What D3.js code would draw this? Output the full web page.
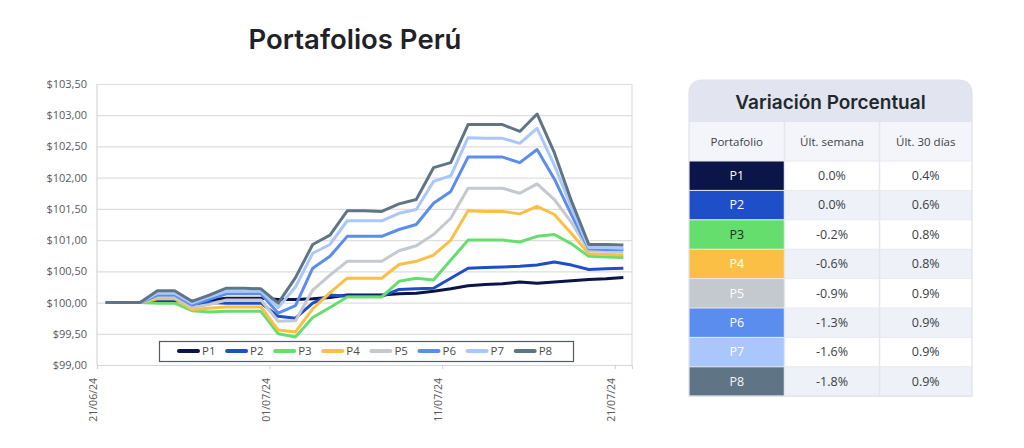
<!DOCTYPE html>
<html>
<head>
<meta charset="utf-8">
<script src="https://cdn.jsdelivr.net/npm/d3@7"></script>
<style>
  html, body { margin: 0; padding: 0; background: #ffffff; }
  svg { display: block; }
</style>
</head>
<body>
<svg id="chart" width="1024" height="448"></svg>
<script>
// ---------- DATA ----------
const dates = ["2024-06-21","2024-06-22","2024-06-23","2024-06-24","2024-06-25","2024-06-26","2024-06-27","2024-06-28","2024-06-29","2024-06-30",
  "2024-07-01","2024-07-02","2024-07-03","2024-07-04","2024-07-05","2024-07-06","2024-07-07","2024-07-08","2024-07-09","2024-07-10",
  "2024-07-11","2024-07-12","2024-07-13","2024-07-14","2024-07-15","2024-07-16","2024-07-17","2024-07-18","2024-07-19","2024-07-20","2024-07-21"];

const seriesNames = ["P1","P2","P3","P4","P5","P6","P7","P8"];
const seriesColors = ["#0b1547","#1f4ec9","#66de6e","#fbbf45","#c3c9cf","#5b8def","#a9c7fb","#5f7585"];

const P1 = [100.00,100.00,100.00,100.03,100.03,100.02,100.04,100.07,100.07,100.07,100.05,100.05,100.06,100.08,100.12,100.12,100.12,100.14,100.15,100.18,100.22,100.27,100.29,100.30,100.33,100.31,100.33,100.35,100.37,100.38,100.40];
const P2 = [100.00,100.00,100.00,100.05,100.05,99.97,100.00,99.99,99.99,99.99,99.78,99.75,99.99,100.12,100.10,100.10,100.10,100.21,100.22,100.23,100.39,100.55,100.56,100.57,100.58,100.60,100.65,100.60,100.53,100.54,100.55];
const P3 = [100.00,100.00,100.00,99.99,99.99,99.87,99.85,99.86,99.86,99.86,99.50,99.45,99.76,99.92,100.09,100.09,100.09,100.34,100.39,100.36,100.68,101.00,101.00,101.00,100.97,101.06,101.09,100.94,100.74,100.73,100.72];
const P4 = [100.00,100.00,100.00,100.06,100.06,99.89,99.91,99.93,99.93,99.93,99.56,99.53,99.90,100.16,100.39,100.39,100.39,100.61,100.66,100.76,101.00,101.47,101.46,101.46,101.42,101.54,101.41,101.10,100.78,100.77,100.76];
const P5 = [100.00,100.00,100.00,100.09,100.09,99.92,99.97,100.04,100.04,100.04,99.70,99.71,100.20,100.44,100.66,100.66,100.66,100.83,100.91,101.09,101.35,101.83,101.83,101.83,101.75,101.90,101.65,101.28,100.83,100.82,100.81];
const P6 = [100.00,100.00,100.00,100.12,100.12,99.96,100.05,100.14,100.14,100.14,99.83,99.95,100.55,100.74,101.06,101.06,101.06,101.17,101.25,101.59,101.78,102.33,102.33,102.33,102.24,102.45,101.98,101.40,100.86,100.85,100.85];
const P7 = [100.00,100.00,100.00,100.15,100.15,99.99,100.09,100.18,100.18,100.18,99.92,100.25,100.79,100.93,101.31,101.31,101.31,101.43,101.49,101.94,102.03,102.64,102.63,102.63,102.55,102.79,102.20,101.52,100.88,100.88,100.87];
const P8 = [100.00,100.00,100.00,100.19,100.19,100.02,100.12,100.23,100.23,100.22,99.99,100.40,100.93,101.08,101.47,101.47,101.46,101.58,101.65,102.16,102.24,102.85,102.85,102.85,102.74,103.02,102.40,101.62,100.93,100.93,100.92];
const seriesValues = [P1,P2,P3,P4,P5,P6,P7,P8];

const yTicks = [99.0,99.5,100.0,100.5,101.0,101.5,102.0,102.5,103.0,103.5];
const xTickDates = ["2024-06-21","2024-07-01","2024-07-11","2024-07-21"];

const chartTitle = "Portafolios Perú";
const tableTitle = "Variación Porcentual";
const tableHeaders = ["Portafolio","Últ. semana","Últ. 30 días"];
const weekChange = ["0.0%","0.0%","-0.2%","-0.6%","-0.9%","-1.3%","-1.6%","-1.8%"];
const monthChange = ["0.4%","0.6%","0.8%","0.8%","0.9%","0.9%","0.9%","0.9%"];
const labelTextColors = ["#ffffff","#ffffff","#1d2b22","#ffffff","#ffffff","#ffffff","#ffffff","#f2f4f6"];

// ---------- CHART ----------
const svg = d3.select("#chart");
const parse = d3.timeParse("%Y-%m-%d");
const fmtDate = d3.timeFormat("%d/%m/%y");
const locale = d3.formatLocale({decimal: ",", thousands: ".", grouping: [3], currency: ["$", ""]});
const fmtY = locale.format("$.2f");

const plot = {left: 97, right: 632, top: 84, bottom: 365};

const x = d3.scaleTime()
  .domain([parse("2024-06-21"), parse("2024-07-22")])
  .range([plot.left, plot.right]);
const y = d3.scaleLinear()
  .domain([99, 103.5])
  .range([plot.bottom, plot.top]);

const pointDate = d => d3.timeHour.offset(parse(d), 12);

// title
svg.append("text")
  .attr("x", 355).attr("y", 49)
  .attr("text-anchor", "middle")
  .attr("font-family", "Inter, 'Open Sans', sans-serif")
  .attr("font-weight", 600)
  .attr("font-size", 27.5)
  .attr("fill", "#1f2328")
  .text(chartTitle);

// gridlines
const yAxisG = svg.append("g")
  .attr("transform", `translate(${plot.left},0)`)
  .call(d3.axisLeft(y).tickValues(yTicks).tickFormat(fmtY).tickSize(-(plot.right - plot.left)).tickPadding(10));
yAxisG.select(".domain").remove();
yAxisG.selectAll(".tick line").attr("stroke", "#dedede").attr("stroke-width", 1.2);
yAxisG.selectAll(".tick text")
  .attr("font-family", "'Open Sans', sans-serif")
  .attr("font-size", 11)
  .attr("fill", "#555a5e");

// plot border (left and right)
svg.append("line").attr("x1", plot.left).attr("x2", plot.left).attr("y1", plot.top).attr("y2", plot.bottom)
  .attr("stroke", "#d6d6d6").attr("stroke-width", 1.2);
svg.append("line").attr("x1", plot.right).attr("x2", plot.right).attr("y1", plot.top).attr("y2", plot.bottom)
  .attr("stroke", "#dedede").attr("stroke-width", 1.2);

// x axis
const xAxisG = svg.append("g")
  .attr("transform", `translate(0,${plot.bottom})`)
  .call(d3.axisBottom(x).tickValues(xTickDates.map(parse)).tickFormat(fmtDate).tickSize(4));
xAxisG.select(".domain").attr("stroke", "#d6d6d6").attr("stroke-width", 1.2);
xAxisG.selectAll(".tick line").attr("stroke", "#cfcfcf");
xAxisG.selectAll(".tick text")
  .attr("font-family", "'Open Sans', sans-serif")
  .attr("font-size", 10.5)
  .attr("fill", "#5a5a5a")
  .attr("text-anchor", "end")
  .attr("transform", "rotate(-90)")
  .attr("x", -13)
  .attr("y", -4)
  .attr("dy", "0.35em");

// lines
const line = d3.line()
  .x((d, i) => x(pointDate(dates[i])))
  .y(d => y(d));

seriesValues.forEach((vals, si) => {
  svg.append("path")
    .datum(vals)
    .attr("fill", "none")
    .attr("stroke", seriesColors[si])
    .attr("stroke-width", 3)
    .attr("stroke-linejoin", "round")
    .attr("d", line);
});

// legend
const legend = svg.append("g");
legend.append("rect")
  .attr("x", 159.5).attr("y", 341.5).attr("width", 414).attr("height", 20)
  .attr("fill", "#ffffff").attr("stroke", "#555a60").attr("stroke-width", 1.2);
seriesNames.forEach((name, i) => {
  const lx = 179 + i * 48.1;
  legend.append("line")
    .attr("x1", lx).attr("x2", lx + 19).attr("y1", 351).attr("y2", 351)
    .attr("stroke", seriesColors[i]).attr("stroke-width", 4).attr("stroke-linecap", "round");
  legend.append("text")
    .attr("x", lx + 23).attr("y", 351).attr("dy", "0.35em")
    .attr("font-family", "'Open Sans', sans-serif").attr("font-size", 11.5)
    .attr("fill", "#4a4a4a")
    .text(name);
});

// ---------- TABLE ----------
const tbl = {x: 689, y: 80, w: 283, headH: 42, colHeadH: 39, rowH: 29.4};
const colX = [tbl.x, 784.5, 879.5, tbl.x + tbl.w];
const tg = svg.append("g");
const r = 14;
const tableBottom = tbl.y + tbl.headH + tbl.colHeadH + tbl.rowH * seriesNames.length;
const cardPath = `M${tbl.x},${tableBottom} L${tbl.x},${tbl.y + r} Q${tbl.x},${tbl.y} ${tbl.x + r},${tbl.y} L${tbl.x + tbl.w - r},${tbl.y} Q${tbl.x + tbl.w},${tbl.y} ${tbl.x + tbl.w},${tbl.y + r} L${tbl.x + tbl.w},${tableBottom} Z`;

tg.append("path").attr("d", cardPath).attr("fill", "#e2e5ef");

tg.append("text")
  .attr("x", tbl.x + tbl.w / 2).attr("y", tbl.y + tbl.headH / 2 + 1).attr("dy", "0.35em")
  .attr("text-anchor", "middle")
  .attr("font-family", "Inter, 'Open Sans', sans-serif")
  .attr("font-weight", 600).attr("font-size", 19)
  .attr("fill", "#1f2a2e")
  .text(tableTitle);

// column header row
const chY = tbl.y + tbl.headH;
tg.append("rect").attr("x", tbl.x).attr("y", chY).attr("width", tbl.w).attr("height", tbl.colHeadH).attr("fill", "#f3f5fa");
tableHeaders.forEach((h, c) => {
  tg.append("text")
    .attr("x", (colX[c] + colX[c + 1]) / 2).attr("y", chY + tbl.colHeadH / 2).attr("dy", "0.35em")
    .attr("text-anchor", "middle")
    .attr("font-family", "'Open Sans', sans-serif").attr("font-size", 11.5)
    .attr("fill", "#3c4146")
    .text(h);
});

// body rows
const bodyY = chY + tbl.colHeadH;
seriesNames.forEach((name, i) => {
  const ry = bodyY + i * tbl.rowH;
  tg.append("rect").attr("x", colX[1]).attr("y", ry).attr("width", colX[3] - colX[1]).attr("height", tbl.rowH)
    .attr("fill", i % 2 === 0 ? "#ffffff" : "#eef1f8");
  tg.append("rect").attr("x", colX[0]).attr("y", ry).attr("width", colX[1] - colX[0]).attr("height", tbl.rowH)
    .attr("fill", seriesColors[i]);
  tg.append("text")
    .attr("x", (colX[0] + colX[1]) / 2).attr("y", ry + tbl.rowH / 2).attr("dy", "0.35em")
    .attr("text-anchor", "middle")
    .attr("font-family", "'Open Sans', sans-serif").attr("font-size", 12.5)
    .attr("fill", labelTextColors[i])
    .text(name);
  [weekChange[i], monthChange[i]].forEach((v, c) => {
    tg.append("text")
      .attr("x", (colX[c + 1] + colX[c + 2]) / 2).attr("y", ry + tbl.rowH / 2).attr("dy", "0.35em")
      .attr("text-anchor", "middle")
      .attr("font-family", "'Open Sans', sans-serif").attr("font-size", 12.5)
      .attr("fill", "#3a3f44")
      .text(v);
  });
});

// column dividers
[colX[1], colX[2]].forEach(cx => {
  tg.append("line").attr("x1", cx).attr("x2", cx).attr("y1", chY).attr("y2", tableBottom)
    .attr("stroke", "#e3e6ec").attr("stroke-width", 1.5);
});
// row dividers
for (let i = 0; i <= seriesNames.length; i++) {
  const ly = bodyY + i * tbl.rowH;
  tg.append("line").attr("x1", tbl.x).attr("x2", tbl.x + tbl.w).attr("y1", ly).attr("y2", ly)
    .attr("stroke", "#e8eaf0").attr("stroke-width", 1);
}
// outer border
tg.append("path").attr("d", cardPath)
  .attr("fill", "none")
  .attr("stroke", "#dfe2ea").attr("stroke-width", 1.2);
</script>
</body>
</html>
